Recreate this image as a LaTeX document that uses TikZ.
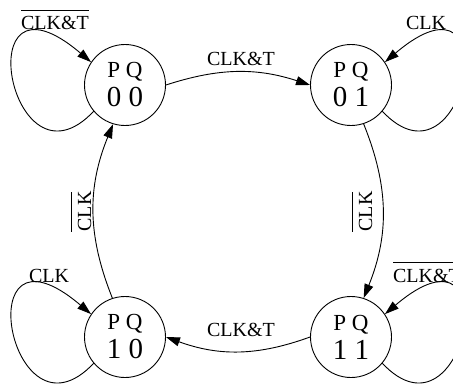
\documentclass[tikz,border=0pt]{standalone}
\usepackage{fontspec}
\setmainfont{Liberation Serif}
\usetikzlibrary{arrows.meta,calc}
% text with a bar drawn over it
\newcommand{\barred}[1]{\vbox{\hrule height 0.8pt\kern 6pt\hbox{#1}}}
% two-line state label: variable names over their values
\newcommand{\statetext}[1]{{\fontsize{23}{29}\selectfont P Q}\\{\fontsize{29}{29}\selectfont #1}}
\begin{document}
\begin{tikzpicture}[x=1pt,y=1pt,line width=0.9pt,
  >={Triangle[length=14pt,width=9pt]},
  state/.style={circle,draw,minimum size=81pt,inner sep=0pt,align=center,
    font=\fontsize{29}{29}\selectfont},
  lbl/.style={inner sep=0pt,anchor=base,font=\fontsize{20}{24}\selectfont},
  trans/.style={->}]
\useasboundingbox (0,-388) rectangle (453,0);
\clip (0,-388) rectangle (453,0);

% states
\node[state] (s00) at (125,-85)  {\statetext{0 0}};
\node[state] (s01) at (351,-85)  {\statetext{0 1}};
\node[state] (s10) at (125,-337) {\statetext{1 0}};
\node[state] (s11) at (351,-337) {\statetext{1 1}};

% transitions between states
\draw[trans] (s00.east) to[bend left=18] (s01.west);
\draw[trans] (s01.288) to[bend left=22] (s11.72);
\draw[trans] (s11.west) to[bend left=20] (s10.east);
\draw[trans] (s10.108) to[bend left=22] (s00.253);

\node[lbl] (l0001) at (241,-65) {CLK\&T};
\node[lbl] (l1110) at (241,-336) {CLK\&T};
\node[lbl,rotate=90] (l0111) at (372,-211.5) {\barred{CLK}};
\node[lbl,rotate=90] (l1000) at (91,-211.5) {\barred{CLK}};

% self loops
\draw[trans] (s00.220) .. controls ($(s00.center)+(-115,-115)$) and ($(s00.center)+(-160,130)$) .. (s00.146);
\draw[trans] (s10.220) .. controls ($(s10.center)+(-115,-115)$) and ($(s10.center)+(-160,130)$) .. (s10.146);
\draw[trans] (s01.320) .. controls ($(s01.center)+(115,-115)$) and ($(s01.center)+(160,130)$) .. (s01.34);
\draw[trans] (s11.320) .. controls ($(s11.center)+(115,-115)$) and ($(s11.center)+(160,130)$) .. (s11.34);

\node[lbl] (l00) at (55,-30) {\barred{CLK\&T}};
\node[lbl] (l01) at (426,-30) {CLK};
\node[lbl] (l10) at (49,-282) {CLK};
\node[lbl] (l11) at (427,-282) {\barred{CLK\&T}};
\end{tikzpicture}
\end{document}
